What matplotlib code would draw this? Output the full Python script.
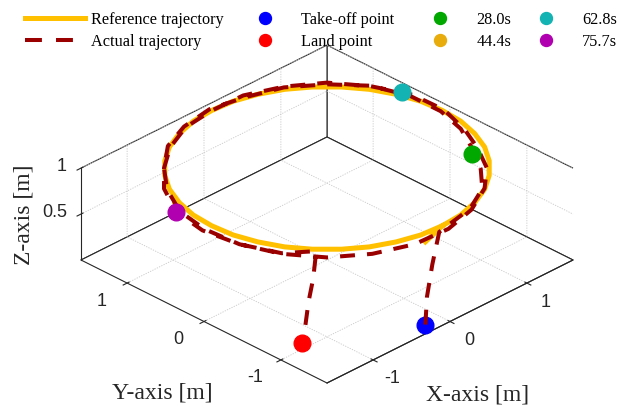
import matplotlib
matplotlib.use("Agg")
import matplotlib.pyplot as plt
import numpy as np
from matplotlib.lines import Line2D
from mpl_toolkits.mplot3d import proj3d

plt.rcParams["font.family"] = ["Liberation Sans", "DejaVu Sans"]
plt.rcParams["axes.unicode_minus"] = False

# reference trajectory [m]: short climb, then the circle
ref_x = [-0.20, 0.00, 0.26, 0.51, 0.75, 0.96, 1.15, 1.30, 1.41, 1.48, 1.50, 1.48, 1.41, 1.30,
         1.15, 0.96, 0.75, 0.51, 0.26, 0.00, -0.26, -0.51, -0.75, -0.96, -1.15, -1.30, -1.41,
         -1.48, -1.50, -1.48, -1.41, -1.30, -1.15, -0.96, -0.75, -0.51, -0.26, 0.00]
ref_y = [-1.48, -1.50, -1.48, -1.41, -1.30, -1.15, -0.96, -0.75, -0.51, -0.26, 0.00, 0.26, 0.51,
         0.75, 0.96, 1.15, 1.30, 1.41, 1.48, 1.50, 1.48, 1.41, 1.30, 1.15, 0.96, 0.75, 0.51, 0.26,
         0.00, -0.26, -0.51, -0.75, -0.96, -1.15, -1.30, -1.41, -1.48, -1.50]
ref_z = [0.90, 1.00, 1.00, 1.00, 1.00, 1.00, 1.00, 1.00, 1.00, 1.00, 1.00, 1.00, 1.00, 1.00,
         1.00, 1.00, 1.00, 1.00, 1.00, 1.00, 1.00, 1.00, 1.00, 1.00, 1.00, 1.00, 1.00, 1.00,
         1.00, 1.00, 1.00, 1.00, 1.00, 1.00, 1.00, 1.00, 1.00, 1.00]

# actual trajectory [m]: take-off, two laps, landing
act_x = [-0.20, -0.19, -0.15, -0.10,
         0.39, 0.74, 1.00, 1.20, 1.37, 1.48, 1.48, 1.34, 1.09, 0.77, 0.39, 0.00, -0.39, -0.76,
         -1.06, -1.32, -1.51, -1.59, -1.56, -1.41, -1.15, -0.82, -0.42, 0.00,
         0.40, 0.75, 1.04, 1.24, 1.41, 1.52, 1.51, 1.35, 1.10, 0.78, 0.40, 0.00, -0.39, -0.75,
         -1.06, -1.34, -1.55, -1.62, -1.56, -1.39, -1.15,
         -1.17, -1.20, -1.22, -1.24]
act_y = [-1.48, -1.49, -1.52, -1.56,
         -1.47, -1.28, -1.00, -0.69, -0.37, 0.00, 0.40, 0.78, 1.09, 1.33, 1.47, 1.53, 1.47, 1.31,
         1.06, 0.76, 0.40, 0.00, -0.42, -0.82, -1.15, -1.41, -1.56, -1.58,
         -1.48, -1.30, -1.04, -0.72, -0.38, 0.00, 0.40, 0.78, 1.10, 1.34, 1.49, 1.51, 1.45, 1.29,
         1.06, 0.78, 0.41, 0.00, -0.42, -0.80, -1.01,
         -0.99, -0.96, -0.94, -0.92]
act_z = [0.00, 0.30, 0.65, 1.00,
         1.01, 1.00, 0.99, 1.00, 1.01, 1.00, 1.00, 1.01, 1.00, 1.00, 0.99, 1.00, 1.00, 1.01,
         1.00, 1.00, 0.99, 1.00, 1.00, 1.00, 0.99, 1.00, 1.00, 1.00,
         1.00, 1.01, 1.00, 1.00, 0.99, 1.00, 1.00, 1.00, 1.01, 1.00, 1.00, 0.99, 1.00, 1.00,
         1.00, 1.01, 1.00, 1.00, 1.00, 0.99, 1.00,
         0.70, 0.45, 0.20, 0.00]

takeoff_xyz = [-0.20, -1.48, 0.00]
land_xyz = [-1.24, -0.92, 0.00]

event_labels = ["28.0s", "44.4s", "62.8s", "75.7s"]
event_x = [1.13, -1.43, 1.48, -1.55]
event_y = [-0.76, 0.55, 0.50, 0.41]
event_z = [1.00, 1.00, 1.00, 1.00]
event_colors = ["#00A800", "#E8AC0C", "#14B3B3", "#B000B0"]
# the 44.4s marker sits under the reference line in the original
event_sizes = [12, 4, 12, 12]
event_order = [4, 1.5, 4, 4]

x_ticks = [-1, 0, 1]
y_ticks = [-1, 0, 1]
z_ticks = [0.5, 1]
x_ticklabels = ["-1", "0", "1"]
y_ticklabels = ["-1", "0", "1"]
z_ticklabels = ["0.5", "1"]

ref_color = "#FFC000"
act_color = "#9B0000"
serif = ["Liberation Serif", "DejaVu Serif"]
dark = "#262626"

fig = plt.figure(figsize=(6.18, 4.13), dpi=100)
ax = fig.add_axes([0, 0, 1, 1], projection="3d", computed_zorder=False)
ax.set_proj_type("ortho")
ax.view_init(elev=30, azim=-135)
ax.set_box_aspect((1, 1, 0.305))
ax.set_xlim(-1.6, 1.6)
ax.set_ylim(-1.6, 1.6)
ax.set_zlim(0, 1)
ax.set_xticks(x_ticks)
ax.set_yticks(y_ticks)
ax.set_zticks(z_ticks)
# tick labels are written by hand below, MATLAB style
ax.set_xticklabels([])
ax.set_yticklabels([])
ax.set_zticklabels([])
ax.tick_params(colors=dark)

for axis in (ax.xaxis, ax.yaxis, ax.zaxis):
    axis.set_pane_color((1, 1, 1, 1))
    axis.pane.set_edgecolor(dark)
    axis.pane.set_linewidth(0.8)
    axis.line.set_color(dark)
    axis.line.set_linewidth(0.8)
    axis._axinfo["grid"].update(color="#c8c8c8", linewidth=0.6, linestyle=(0, (1.5, 1.5)))
    axis._axinfo["tick"]["color"] = dark

ax.plot(ref_x, ref_y, ref_z, color=ref_color, lw=3.6, zorder=2)
ax.plot([takeoff_xyz[0]], [takeoff_xyz[1]], [takeoff_xyz[2]], "o", ms=12,
        color="#0000FF", zorder=2.5)
ax.plot(act_x, act_y, act_z, color=act_color, lw=2.9, ls=(0, (3.7, 3.0)), zorder=3)
ax.plot([land_xyz[0]], [land_xyz[1]], [land_xyz[2]], "o", ms=12, color="#FF0000", zorder=4)
for ex, ey, ez, ec, es, eo in zip(event_x, event_y, event_z, event_colors,
                                  event_sizes, event_order):
    ax.plot([ex], [ey], [ez], "o", ms=es, color=ec, zorder=eo)


def to_px(xs, ys, zs):
    px, py, _ = proj3d.proj_transform(np.asarray(xs, float), np.asarray(ys, float),
                                      np.asarray(zs, float), ax.get_proj())
    return ax.transData.transform(np.column_stack([px, py]))


# place the box so its corners sit where the original has them
fig.canvas.draw()
x0, x1 = ax.get_xlim()
y0, y1 = ax.get_ylim()
z0, z1 = ax.get_zlim()
disp = to_px([x0, x1, x0], [y1, y0, y0], [z0, z0, z0])
bb = ax.bbox
frac = (disp - [bb.x0, bb.y0]) / [bb.width, bb.height]
W, H = fig.bbox.width, fig.bbox.height
s = (573 - 81) / (frac[1, 0] - frac[0, 0])
ox = 81 - frac[0, 0] * s
oy = (H - 383) - frac[2, 1] * s
ax.set_position([ox / W, oy / H, s / W, s / H])
fig.canvas.draw()

tick_font = dict(size=13, color=dark, family=["Liberation Sans", "DejaVu Sans"])
for (px, py), lab in zip(to_px(x_ticks, [y0] * len(x_ticks), [z0] * len(x_ticks)),
                         x_ticklabels):
    fig.text((px + 19) / W, (py - 19) / H, lab, ha="center", va="center", **tick_font)
for (px, py), lab in zip(to_px([x0] * len(y_ticks), y_ticks, [z0] * len(y_ticks)),
                         y_ticklabels):
    fig.text((px - 26) / W, (py - 18) / H, lab, ha="center", va="center", **tick_font)
for (px, py), lab in zip(to_px([x0] * len(z_ticks), [y1] * len(z_ticks), z_ticks),
                         z_ticklabels):
    fig.text((px - 14) / W, (py + 2) / H, lab, ha="right", va="center", **tick_font)

handles = [Line2D([], [], color=ref_color, lw=3.6),
           Line2D([], [], color=act_color, lw=2.9, ls=(0, (4.2, 3.5))),
           Line2D([], [], color="#0000FF", marker="o", ls="none", ms=8.6),
           Line2D([], [], color="#FF0000", marker="o", ls="none", ms=8.6)]
labels = ["Reference trajectory", "Actual trajectory", "Take-off point", "Land point"]
for ec, el in zip(event_colors, event_labels):
    handles.append(Line2D([], [], color=ec, marker="o", ls="none", ms=8.6))
    labels.append(el)
# one legend per column, as the MATLAB columns have their own widths
for col, left in enumerate([25, 235, 410, 516]):
    fig.legend(handles[2 * col:2 * col + 2], labels[2 * col:2 * col + 2], loc="upper left",
               bbox_to_anchor=(left / W, 1 - 12 / H), frameon=False,
               prop={"family": serif, "size": 11.7}, handlelength=3.7, handletextpad=0.37,
               borderpad=0, borderaxespad=0, labelspacing=0.35)

fig.text(478 / W, 1 - 395 / H, "X-axis [m]", family=serif, size=17, color=dark,
         ha="center", va="center")
fig.text(162 / W, 1 - 393 / H, "Y-axis [m]", family=serif, size=17, color=dark,
         ha="center", va="center")
fig.text(24 / W, 1 - 215 / H, "Z-axis [m]", family=serif, size=17, color=dark,
         ha="center", va="center", rotation=90)

fig.savefig("out.png", dpi=100)
